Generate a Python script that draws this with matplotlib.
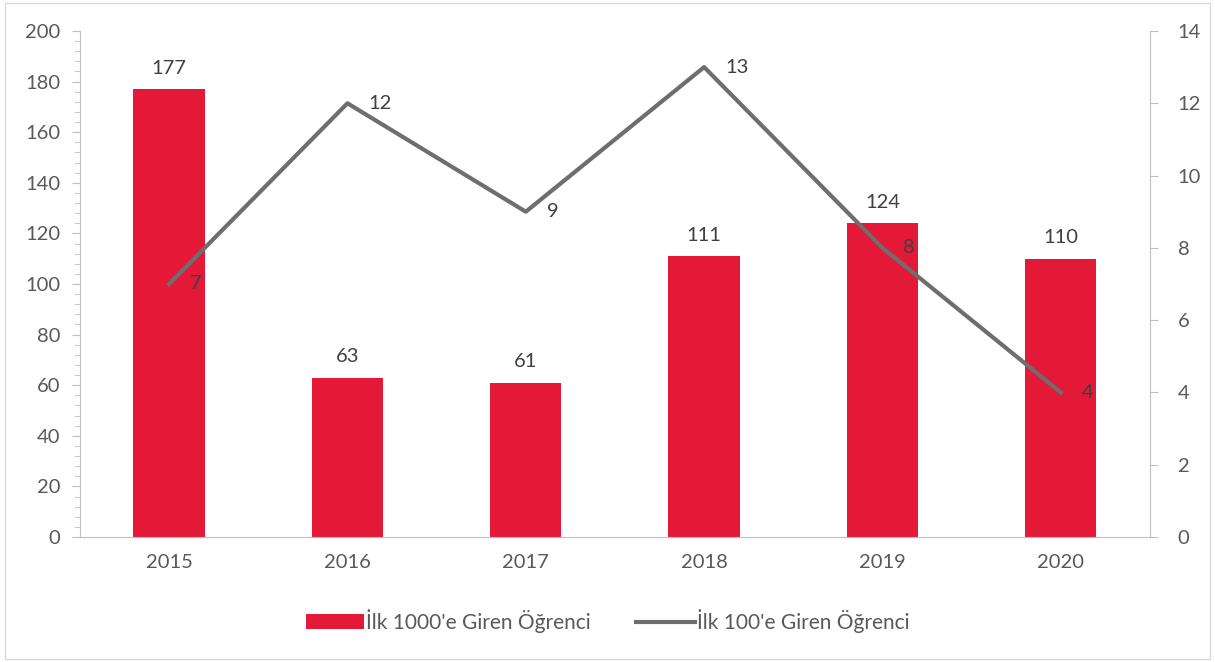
import matplotlib.pyplot as plt
import numpy as np
from matplotlib.ticker import MultipleLocator

plt.rcParams['font.family'] = ['Lato', 'DejaVu Sans']

years = ['2015', '2016', '2017', '2018', '2019', '2020']
ilk_1000 = [177, 63, 61, 111, 124, 110]
ilk_100 = [7, 12, 9, 13, 8, 4]

red = '#E31937'
gray_line = '#6E6E70'
text_col = '#595959'
axis_col = '#BFBFBF'

fig = plt.figure(figsize=(12.15, 6.62), dpi=100)
ax = fig.add_axes([0.0658, 0.1888, 0.8807, 0.7644])
ax2 = ax.twinx()

x = np.arange(len(years))
bars = ax.bar(x, ilk_1000, width=0.4, color=red, label="İlk 1000'e Giren Öğrenci", zorder=2)
line, = ax2.plot(x, ilk_100, color=gray_line, lw=3, label="İlk 100'e Giren Öğrenci", zorder=3)

# etiketler
for xi, v in zip(x, ilk_1000):
    ax.annotate(str(v), (xi, v), xytext=(0, 9), textcoords='offset points',
                ha='center', va='bottom', fontsize=14.5, color='#404040')
for xi, v in zip(x, ilk_100):
    ax2.annotate(str(v), (xi, v), xytext=(15, 0), textcoords='offset points',
                 ha='left', va='center', fontsize=14.5, color='#404040')

ax.set_xlim(-0.5, len(years) - 0.5)
ax.set_ylim(0, 200)
ax2.set_ylim(0, 14)
ax.yaxis.set_major_locator(MultipleLocator(20))
ax.yaxis.set_minor_locator(MultipleLocator(4))
ax2.yaxis.set_major_locator(MultipleLocator(2))
ax.set_xticks(x)
ax.set_xticklabels(years)

ax.set_zorder(ax2.get_zorder() - 1)
ax2.patch.set_visible(False)

for a in (ax, ax2):
    for s in a.spines.values():
        s.set_visible(False)
    a.tick_params(labelsize=14.5, labelcolor=text_col, color=axis_col)
ax.spines['left'].set_visible(True)
ax.spines['left'].set_color(axis_col)
ax.spines['bottom'].set_visible(True)
ax.spines['bottom'].set_color(axis_col)
ax2.spines['right'].set_visible(True)
ax2.spines['right'].set_color(axis_col)
ax.tick_params(axis='x', length=0, pad=12)
ax.tick_params(axis='y', which='major', length=6, pad=8)
ax.tick_params(axis='y', which='minor', length=4, color=axis_col)
ax2.tick_params(axis='y', length=6, pad=14)

fig.legend(handles=[bars, line], loc='center', bbox_to_anchor=(0.5, 0.062), ncol=2,
           frameon=False, fontsize=15, labelcolor=text_col, handlelength=2.8,
           handletextpad=0.1, columnspacing=2.2)

# çerçeve
fig.patches.append(plt.Rectangle((0.004, 0.004), 0.992, 0.992, transform=fig.transFigure,
                                 fill=False, edgecolor='#D9D9D9', lw=1))

plt.savefig('out.png', dpi=100)
